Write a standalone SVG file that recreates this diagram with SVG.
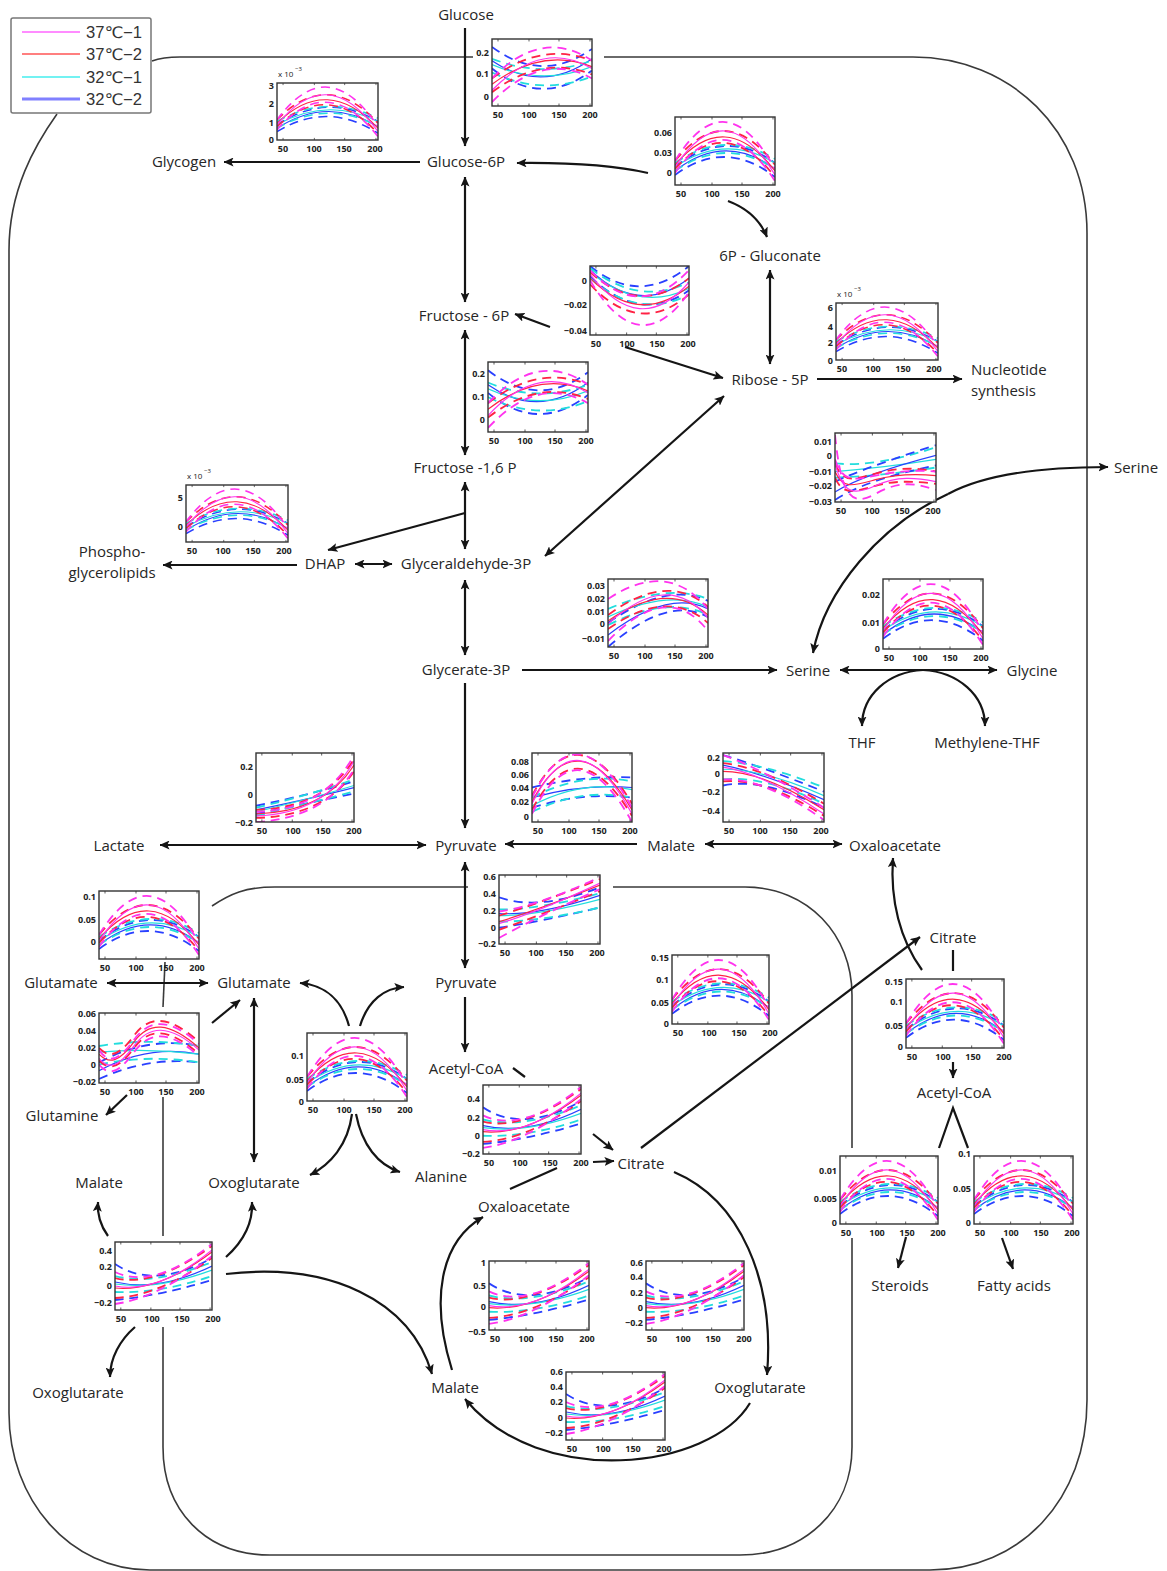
<svg xmlns="http://www.w3.org/2000/svg" xmlns:xlink="http://www.w3.org/1999/xlink" width="1167" height="1571" viewBox="0 0 1167 1571">
<style>
.n{font-family:"Open Sans","Noto Sans",sans-serif;font-size:15px;fill:#262626;text-anchor:middle}
.t{font-family:"Open Sans","Noto Sans",sans-serif;font-size:9px;font-weight:700;fill:#222}
.yl{text-anchor:end}
.xl{text-anchor:middle}
.lg{font-family:"Liberation Sans","DejaVu Sans",sans-serif;font-size:16px;fill:#333}
.mb{fill:none;stroke:#3a3a3a;stroke-width:1.6}
.cn{fill:none;stroke:#151515;stroke-width:2.2}
.ea{marker-end:url(#ah)}
.ba{marker-start:url(#ah);marker-end:url(#ah)}
.bg{fill:#fff}
.ax{fill:none;stroke:#333;stroke-width:1.4}
.tk{fill:none;stroke:#333;stroke-width:0.8}
.s{fill:none;stroke-width:1.2}
.d{fill:none;stroke-width:1.8;stroke-dasharray:9 6}
.M{stroke:#ff33ee}
.R{stroke:#ff2244}
.C{stroke:#22dddd}
.B{stroke:#2a40ff}
</style>
<defs>
<marker id="ah" viewBox="0 0 10 9" refX="9.5" refY="4.5" markerWidth="10" markerHeight="9" markerUnits="userSpaceOnUse" orient="auto-start-reverse">
<path d="M0,0 L10,4.5 L0,9 L2.2,4.5 z" fill="#151515"/>
</marker>
<clipPath id="cp"><rect width="100" height="68"/></clipPath>
<path id="tk" class="tk" d="M6,0v2.5M37,0v2.5M67,0v2.5M98,0v2.5M6,68v-2.5M37,68v-2.5M67,68v-2.5M98,68v-2.5"/>
<g id="xl" class="t xl"><text><tspan x="6">50</tspan><tspan x="37">100</tspan><tspan x="67">150</tspan><tspan x="98">200</tspan></text></g>
<g id="h" clip-path="url(#cp)">
<path class="s B" d="M0,54 Q50,15 100,52"/><path class="d B" d="M0,50 Q50,10 100,46"/><path class="d B" d="M0,58 Q50,21 100,60"/>
<path class="s C" d="M0,50 Q50,16 100,46"/><path class="d C" d="M0,46 Q50,12 100,42"/><path class="d C" d="M0,54 Q50,19 100,52"/>
<path class="s R" d="M0,48 Q50,-11 100,54"/><path class="d R" d="M0,44 Q50,-18 100,48"/><path class="d R" d="M0,52 Q50,-4 100,60"/>
<path class="s M" d="M0,50 Q50,-26 100,58"/><path class="d M" d="M0,44 Q50,-38 100,52"/><path class="d M" d="M0,56 Q50,-14 100,64"/>
</g>
<g id="ri" clip-path="url(#cp)">
<path class="s B" d="M0,40 Q45,50 100,24"/><path class="d B" d="M0,22 Q40,48 100,16"/><path class="d B" d="M0,58 Q45,54 100,38"/>
<path class="s C" d="M0,42 Q45,48 100,28"/><path class="d C" d="M0,34 Q40,44 100,20"/><path class="d C" d="M0,50 Q45,52 100,34"/>
<path class="s R" d="M0,46 Q45,50 100,10"/><path class="d R" d="M0,36 Q40,46 100,4"/><path class="d R" d="M0,56 Q45,54 100,16"/>
<path class="s M" d="M0,44 Q45,52 100,8"/><path class="d M" d="M0,30 Q40,48 100,2"/><path class="d M" d="M0,62 Q45,56 100,14"/>
</g>
<g id="x" clip-path="url(#cp)">
<path class="s B" d="M0,22 Q50,56 100,20"/><path class="d B" d="M0,8 Q50,46 100,10"/><path class="d B" d="M0,30 Q50,70 100,32"/>
<path class="s C" d="M0,26 Q50,48 100,28"/><path class="d C" d="M0,20 Q50,40 100,22"/><path class="d C" d="M0,34 Q50,58 100,38"/>
<path class="s R" d="M0,46 Q50,8 100,28"/><path class="d R" d="M0,40 Q50,2 100,22"/><path class="d R" d="M0,54 Q50,16 100,36"/>
<path class="s M" d="M0,52 Q50,0 100,30"/><path class="d M" d="M0,40 Q50,-12 100,22"/><path class="d M" d="M0,64 Q50,12 100,40"/>
</g>
<g id="v" clip-path="url(#cp)">
<path class="s B" d="M0,4 Q50,50 100,12"/><path class="d B" d="M0,0 Q50,40 100,0"/><path class="d B" d="M0,10 Q50,58 100,24"/>
<path class="s C" d="M0,6 Q50,46 100,22"/><path class="d C" d="M0,2 Q50,40 100,16"/><path class="d C" d="M0,12 Q50,54 100,28"/>
<path class="s R" d="M0,12 Q50,60 100,20"/><path class="d R" d="M0,6 Q50,50 100,12"/><path class="d R" d="M0,18 Q50,70 100,28"/>
<path class="s M" d="M0,8 Q50,72 100,16"/><path class="d M" d="M0,4 Q50,56 100,4"/><path class="d M" d="M0,14 Q50,96 100,26"/>
</g>
<g id="f" clip-path="url(#cp)">
<path class="s B" d="M0,12 Q40,20 100,46"/><path class="d B" d="M0,2 Q40,14 100,38"/><path class="d B" d="M0,32 Q40,24 100,54"/>
<path class="s C" d="M0,16 Q40,16 100,42"/><path class="d C" d="M0,8 Q40,10 100,34"/><path class="d C" d="M0,26 Q40,22 100,50"/>
<path class="s R" d="M0,18 Q40,18 100,56"/><path class="d R" d="M0,10 Q40,14 100,50"/><path class="d R" d="M0,28 Q40,24 100,62"/>
<path class="s M" d="M0,14 Q40,20 100,60"/><path class="d M" d="M0,2 Q40,16 100,54"/><path class="d M" d="M0,26 Q40,24 100,66"/>
</g>
<g id="se" clip-path="url(#cp)">
<path class="s C" d="M0,38 Q50,34 100,26"/><path class="d C" d="M0,30 Q40,34 100,14"/><path class="d C" d="M0,44 Q50,42 100,34"/>
<path class="s B" d="M0,58 Q30,40 100,22"/><path class="d B" d="M0,66 Q30,46 100,32"/><path class="d B" d="M0,48 Q30,34 100,12"/>
<path class="s R" d="M0,38 C8,56 18,52 40,46 S80,40 100,42"/><path class="d R" d="M0,30 C8,50 18,46 40,40 S80,34 100,38"/><path class="d R" d="M0,44 C8,62 18,58 40,52 S80,48 100,50"/>
<path class="s M" d="M0,30 C8,60 18,62 40,52 S80,44 100,48"/><path class="d M" d="M0,2 C6,60 15,74 40,60 S80,50 100,56"/><path class="d M" d="M0,26 C8,50 20,46 40,42 S80,36 100,38"/>
</g>
<g id="gs" clip-path="url(#cp)">
<path class="s B" d="M0,56 Q60,10 100,30"/><path class="d B" d="M0,68 Q60,16 100,38"/><path class="d B" d="M0,44 Q60,2 100,22"/>
<path class="s C" d="M0,38 Q60,10 100,28"/><path class="d C" d="M0,30 Q60,4 100,20"/><path class="d C" d="M0,46 Q60,16 100,36"/>
<path class="s R" d="M0,42 Q60,0 100,36"/><path class="d R" d="M0,36 Q60,-8 100,28"/><path class="d R" d="M0,50 Q60,8 100,44"/>
<path class="s M" d="M0,45 Q60,-10 100,39"/><path class="d M" d="M0,20 Q60,-20 100,30"/><path class="d M" d="M0,62 Q60,0 100,52"/>
</g>
<g id="la" clip-path="url(#cp)">
<path class="s B" d="M0,56 Q60,44 100,34"/><path class="d B" d="M0,52 Q60,40 100,28"/><path class="d B" d="M0,60 Q60,48 100,40"/>
<path class="s C" d="M0,58 Q60,44 100,32"/><path class="d C" d="M0,54 Q60,40 100,26"/><path class="d C" d="M0,62 Q60,48 100,38"/>
<path class="s R" d="M0,60 Q70,58 100,12"/><path class="d R" d="M0,56 Q70,54 100,6"/><path class="d R" d="M0,64 Q70,62 100,18"/>
<path class="s M" d="M0,62 Q70,60 100,8"/><path class="d M" d="M0,58 Q70,56 100,2"/><path class="d M" d="M0,68 Q70,64 100,16"/>
</g>
<g id="pm" clip-path="url(#cp)">
<path class="s B" d="M0,44 Q50,30 100,34"/><path class="d B" d="M0,34 Q50,22 100,24"/><path class="d B" d="M0,54 Q50,38 100,44"/>
<path class="s C" d="M0,52 Q50,26 100,36"/><path class="d C" d="M0,44 Q50,18 100,28"/><path class="d C" d="M0,58 Q50,34 100,44"/>
<path class="s R" d="M0,48 Q45,-36 100,56"/><path class="d R" d="M0,42 Q45,-42 100,50"/><path class="d R" d="M0,56 Q45,-28 100,62"/>
<path class="s M" d="M0,50 Q45,-40 100,60"/><path class="d M" d="M0,44 Q45,-46 100,54"/><path class="d M" d="M0,60 Q45,-30 100,68"/>
</g>
<g id="gl" clip-path="url(#cp)">
<path class="s B" d="M0,56 Q50,30 100,40"/><path class="d B" d="M0,48 Q50,22 100,32"/><path class="d B" d="M0,64 Q50,42 100,48"/>
<path class="s C" d="M0,38 Q50,34 100,40"/><path class="d C" d="M0,32 Q50,24 100,32"/><path class="d C" d="M0,50 Q50,40 100,48"/>
<path class="s R" d="M0,40 C10,50 20,48 35,28 S70,8 100,34"/><path class="d R" d="M0,34 C10,44 20,42 35,22 S70,2 100,28"/><path class="d R" d="M0,46 C10,56 20,54 35,34 S70,14 100,40"/>
<path class="s M" d="M0,44 C10,56 20,52 35,32 S70,10 100,36"/><path class="d M" d="M0,36 C10,50 20,46 35,26 S70,4 100,30"/><path class="d M" d="M0,50 C10,62 20,58 35,38 S70,16 100,42"/>
</g>
<g id="pp" clip-path="url(#cp)">
<path class="s B" d="M0,38 Q40,40 100,20"/><path class="d B" d="M0,22 Q40,36 100,12"/><path class="d B" d="M0,52 Q40,46 100,32"/>
<path class="s C" d="M0,40 Q40,40 100,24"/><path class="d C" d="M0,34 Q40,34 100,18"/><path class="d C" d="M0,46 Q40,46 100,32"/>
<path class="s R" d="M0,46 Q40,34 100,10"/><path class="d R" d="M0,40 Q40,28 100,4"/><path class="d R" d="M0,54 Q40,40 100,16"/>
<path class="s M" d="M0,48 Q40,36 100,8"/><path class="d M" d="M0,36 Q40,30 100,2"/><path class="d M" d="M0,62 Q40,40 100,14"/>
</g>
</defs>
<rect width="1167" height="1571" fill="#fff"/>

<g id="membranes">
<path class="mb" d="M152,61 C160,58 170,57 180,57 L473,57"/>
<path class="mb" d="M604,57 L913,57 C1010,57 1087,130 1087,233 L1087,1400 C1087,1500 1020,1570 930,1570 L150,1570 C70,1570 9,1500 9,1413 L9,250 C9,190 35,145 57,114"/>
<path class="mb" d="M212,906 C230,894 245,887 275,887 L468,887"/>
<path class="mb" d="M613,887 L745,887 C808,887 852,935 852,995 L852,1148"/>
<path class="mb" d="M852,1238 L852,1447 C852,1510 805,1555 740,1555 L270,1555 C205,1555 163,1510 163,1447 L163,1327"/>
<path class="mb" d="M163,1236 L163,1097"/>
<path class="mb" d="M163,1007 L165,962"/>
</g>

<g id="legend">
<rect x="11" y="18" width="140" height="95" rx="2" fill="#fff" stroke="#777" stroke-width="1.5"/>
<line x1="22" y1="32" x2="80" y2="32" stroke="#ff66ff" stroke-width="1.6"/>
<line x1="22" y1="54" x2="80" y2="54" stroke="#ff5555" stroke-width="1.6"/>
<line x1="22" y1="77" x2="80" y2="77" stroke="#44eeee" stroke-width="1.6"/>
<line x1="22" y1="99" x2="80" y2="99" stroke="#8080ff" stroke-width="3"/>
<text class="lg" x="86" y="38" textLength="56" lengthAdjust="spacingAndGlyphs">37℃−1</text>
<text class="lg" x="86" y="60" textLength="56" lengthAdjust="spacingAndGlyphs">37℃−2</text>
<text class="lg" x="86" y="83" textLength="56" lengthAdjust="spacingAndGlyphs">32℃−1</text>
<text class="lg" x="86" y="105" textLength="56" lengthAdjust="spacingAndGlyphs">32℃−2</text>
</g>

<g id="connectors">
<path class="cn ea" d="M465,28 L465,146"/>
<path class="cn ea" d="M420,162 L224,162"/>
<path class="cn ea" d="M648,173 Q600,162 517,163"/>
<path class="cn ea" d="M728,201 Q757,212 767,237"/>
<path class="cn ba" d="M465,177 L465,302"/>
<path class="cn ba" d="M770,270 L770,364"/>
<path class="cn ea" d="M550,327 L515,314"/>
<path class="cn ea" d="M625,347 L723,378"/>
<path class="cn ba" d="M465,330 L465,455"/>
<path class="cn ba" d="M465,482 L465,549"/>
<path class="cn ea" d="M465,513 L328,550"/>
<path class="cn ba" d="M355,564 L392,564"/>
<path class="cn ea" d="M297,565 L163,565"/>
<path class="cn ba" d="M545,556 L724,396"/>
<path class="cn ea" d="M817,379 L962,379"/>
<path class="cn ba" d="M465,580 L465,655"/>
<path class="cn ea" d="M522,670 L777,670"/>
<path class="cn ba" d="M840,670 L997,670"/>
<path class="cn ea" d="M923,670 C888,672 862,695 862,726"/>
<path class="cn ea" d="M923,670 C958,672 985,695 985,726"/>
<path class="cn ea" d="M948,494 C985,474 1040,467 1108,467"/>
<path class="cn ea" d="M948,494 C880,525 825,590 813,653"/>
<path class="cn ea" d="M465,683 L465,828"/>
<path class="cn ba" d="M160,845 L426,845"/>
<path class="cn ea" d="M637,844 L505,844"/>
<path class="cn ba" d="M705,844 L842,844"/>
<path class="cn ba" d="M465,862 L465,968"/>
<path class="cn ea" d="M465,997 L465,1052"/>
<path class="cn" d="M513,1068 L525,1077"/>
<path class="cn ea" d="M593,1134 L613,1150"/>
<path class="cn" d="M510,1189 L557,1168"/>
<path class="cn ea" d="M593,1162 L614,1161"/>
<path class="cn ea" d="M641,1148 L920,937"/>
<path class="cn ea" d="M674,1172 C740,1200 775,1280 767,1375"/>
<path class="cn ea" d="M750,1403 C710,1470 540,1490 465,1399"/>
<path class="cn ea" d="M452,1370 C430,1300 440,1242 483,1217"/>
<path class="cn ea" d="M226,1274 C330,1262 410,1300 432,1374"/>
<path class="cn ea" d="M226,1257 C245,1240 253,1222 252,1202"/>
<path class="cn ea" d="M108,1236 C100,1225 97,1215 98,1202"/>
<path class="cn ea" d="M135,1327 C120,1340 110,1358 110,1377"/>
<path class="cn ba" d="M107,983 L208,983"/>
<path class="cn ea" d="M212,1023 L240,1000"/>
<path class="cn ea" d="M127,1095 L106,1115"/>
<path class="cn ba" d="M254,998 L254,1162"/>
<path class="cn ea" d="M349,1026 C342,1000 325,985 300,983"/>
<path class="cn ea" d="M360,1026 C368,1000 385,988 404,987"/>
<path class="cn ea" d="M352,1114 C348,1145 330,1165 310,1175"/>
<path class="cn ea" d="M356,1114 C362,1145 378,1165 400,1172"/>
<path class="cn" d="M953,950 L953,971"/>
<path class="cn ea" d="M953,1062 L953,1078"/>
<path class="cn" d="M939,1148 L953,1108 L968,1148"/>
<path class="cn ea" d="M906,1237 L898,1268"/>
<path class="cn ea" d="M1002,1238 L1013,1269"/>
<path class="cn ea" d="M922,970 C900,940 890,900 893,858"/>
</g>

<g id="nodes">
<g id="n-glucose"><text class="n" x="466" y="20">Glucose</text></g>
<g id="n-glycogen"><text class="n" x="184" y="167">Glycogen</text></g>
<g id="n-g6p"><text class="n" x="466" y="167">Glucose-6P</text></g>
<g id="n-6pg"><text class="n" x="770" y="261">6P - Gluconate</text></g>
<g id="n-f6p"><text class="n" x="464" y="321">Fructose - 6P</text></g>
<g id="n-r5p"><text class="n" x="770" y="385">Ribose - 5P</text></g>
<g id="n-nuc"><text class="n" x="971" y="375" style="text-anchor:start">Nucleotide</text><text class="n" x="971" y="396" style="text-anchor:start">synthesis</text></g>
<g id="n-f16p"><text class="n" x="465" y="473">Fructose -1,6 P</text></g>
<g id="n-serine-out"><text class="n" x="1136" y="473">Serine</text></g>
<g id="n-pgl"><text class="n" x="112" y="557">Phospho-</text><text class="n" x="112" y="578">glycerolipids</text></g>
<g id="n-dhap"><text class="n" x="325" y="569">DHAP</text></g>
<g id="n-gap"><text class="n" x="466" y="569">Glyceraldehyde-3P</text></g>
<g id="n-g3p"><text class="n" x="466" y="675">Glycerate-3P</text></g>
<g id="n-serine"><text class="n" x="808" y="676">Serine</text></g>
<g id="n-glycine"><text class="n" x="1032" y="676">Glycine</text></g>
<g id="n-thf"><text class="n" x="862" y="748">THF</text></g>
<g id="n-mthf"><text class="n" x="987" y="748">Methylene-THF</text></g>
<g id="n-lactate"><text class="n" x="119" y="851">Lactate</text></g>
<g id="n-pyr"><text class="n" x="466" y="851">Pyruvate</text></g>
<g id="n-malate-c"><text class="n" x="671" y="851">Malate</text></g>
<g id="n-oaa-c"><text class="n" x="895" y="851">Oxaloacetate</text></g>
<g id="n-citrate-c"><text class="n" x="953" y="943">Citrate</text></g>
<g id="n-glu-c"><text class="n" x="61" y="988">Glutamate</text></g>
<g id="n-glu-m"><text class="n" x="254" y="988">Glutamate</text></g>
<g id="n-pyr-m"><text class="n" x="466" y="988">Pyruvate</text></g>
<g id="n-accoa-c"><text class="n" x="954" y="1098">Acetyl-CoA</text></g>
<g id="n-gln"><text class="n" x="62" y="1121">Glutamine</text></g>
<g id="n-accoa-m"><text class="n" x="466" y="1074">Acetyl-CoA</text></g>
<g id="n-malate-l"><text class="n" x="99" y="1188">Malate</text></g>
<g id="n-oxo-m1"><text class="n" x="254" y="1188">Oxoglutarate</text></g>
<g id="n-ala"><text class="n" x="441" y="1182">Alanine</text></g>
<g id="n-citrate-m"><text class="n" x="641" y="1169">Citrate</text></g>
<g id="n-oaa-m"><text class="n" x="524" y="1212">Oxaloacetate</text></g>
<g id="n-steroids"><text class="n" x="900" y="1291">Steroids</text></g>
<g id="n-fa"><text class="n" x="1014" y="1291">Fatty acids</text></g>
<g id="n-oxo-c"><text class="n" x="78" y="1398">Oxoglutarate</text></g>
<g id="n-malate-m"><text class="n" x="455" y="1393">Malate</text></g>
<g id="n-oxo-m2"><text class="n" x="760" y="1393">Oxoglutarate</text></g>
</g>

<g id="plots">
<g id="p-glycogen" transform="translate(277,83)">
<rect class="bg" width="101" height="57"/><use href="#h" transform="scale(1.01,0.838)"/><use href="#tk" transform="scale(1.01,0.838)"/><rect class="ax" width="101" height="57"/>
<g class="t yl"><text x="-3" y="6">3</text><text x="-3" y="24">2</text><text x="-3" y="43">1</text><text x="-3" y="60">0</text></g>
<text class="t" x="1" y="-6" style="font-weight:400;font-size:8px">x 10</text><text class="t" x="18" y="-12" style="font-weight:400;font-size:6px">−3</text>
<use href="#xl" y="69"/></g>

<g id="p-glucose" transform="translate(492,39)">
<rect class="bg" width="100" height="67"/><use href="#x" transform="scale(1,0.985)"/><use href="#tk" transform="scale(1,0.985)"/><rect class="ax" width="100" height="67"/>
<g class="t yl"><text x="-3" y="17">0.2</text><text x="-3" y="38">0.1</text><text x="-3" y="61">0</text></g>
<use href="#xl" y="79"/></g>

<g id="p-g6p" transform="translate(675,117)">
<rect class="bg" width="100" height="68"/><use href="#h"/><use href="#tk"/><rect class="ax" width="100" height="68"/>
<g class="t yl"><text x="-3" y="19">0.06</text><text x="-3" y="39">0.03</text><text x="-3" y="59">0</text></g>
<use href="#xl" y="80"/></g>

<g id="p-f6p" transform="translate(590,266)">
<rect class="bg" width="99" height="69"/><use href="#v" transform="scale(0.99,1.015)"/><use href="#tk" transform="scale(0.99,1.015)"/><rect class="ax" width="99" height="69"/>
<g class="t yl"><text x="-3" y="18">0</text><text x="-3" y="42">−0.02</text><text x="-3" y="68">−0.04</text></g>
<use href="#xl" y="81"/></g>

<g id="p-nuc" transform="translate(836,303)">
<rect class="bg" width="102" height="57"/><use href="#h" transform="scale(1.02,0.838)"/><use href="#tk" transform="scale(1.02,0.838)"/><rect class="ax" width="102" height="57"/>
<g class="t yl"><text x="-3" y="8">6</text><text x="-3" y="27">4</text><text x="-3" y="43">2</text><text x="-3" y="61">0</text></g>
<text class="t" x="1" y="-6" style="font-weight:400;font-size:8px">x 10</text><text class="t" x="18" y="-12" style="font-weight:400;font-size:6px">−3</text>
<use href="#xl" y="69"/></g>

<g id="p-f16p" transform="translate(488,362)">
<rect class="bg" width="100" height="70"/><use href="#x" transform="scale(1,1.03)"/><use href="#tk" transform="scale(1,1.03)"/><rect class="ax" width="100" height="70"/>
<g class="t yl"><text x="-3" y="15">0.2</text><text x="-3" y="38">0.1</text><text x="-3" y="61">0</text></g>
<use href="#xl" y="82"/></g>

<g id="p-serexp" transform="translate(835,433)">
<rect class="bg" width="101" height="69"/><use href="#se" transform="scale(1.01,1.015)"/><use href="#tk" transform="scale(1.01,1.015)"/><rect class="ax" width="101" height="69"/>
<g class="t yl"><text x="-3" y="12">0.01</text><text x="-3" y="26">0</text><text x="-3" y="42">−0.01</text><text x="-3" y="56">−0.02</text><text x="-3" y="72">−0.03</text></g>
<use href="#xl" y="81"/></g>

<g id="p-dhap" transform="translate(186,485)">
<rect class="bg" width="102" height="57"/><use href="#h" transform="scale(1.02,0.838)"/><use href="#tk" transform="scale(1.02,0.838)"/><rect class="ax" width="102" height="57"/>
<g class="t yl"><text x="-3" y="16">5</text><text x="-3" y="45">0</text></g>
<text class="t" x="1" y="-6" style="font-weight:400;font-size:8px">x 10</text><text class="t" x="18" y="-12" style="font-weight:400;font-size:6px">−3</text>
<use href="#xl" y="69"/></g>

<g id="p-glyser" transform="translate(608,579)">
<rect class="bg" width="100" height="68"/><use href="#gs"/><use href="#tk"/><rect class="ax" width="100" height="68"/>
<g class="t yl"><text x="-3" y="10">0.03</text><text x="-3" y="23">0.02</text><text x="-3" y="36">0.01</text><text x="-3" y="48">0</text><text x="-3" y="63">−0.01</text></g>
<use href="#xl" y="80"/></g>

<g id="p-sergly" transform="translate(883,579)">
<rect class="bg" width="100" height="70"/><use href="#h" transform="scale(1,1.03)"/><use href="#tk" transform="scale(1,1.03)"/><rect class="ax" width="100" height="70"/>
<g class="t yl"><text x="-3" y="19">0.02</text><text x="-3" y="47">0.01</text><text x="-3" y="73">0</text></g>
<use href="#xl" y="82"/></g>

<g id="p-lactate" transform="translate(256,753)">
<rect class="bg" width="98" height="69"/><use href="#la" transform="scale(0.98,1.015)"/><use href="#tk" transform="scale(0.98,1.015)"/><rect class="ax" width="98" height="69"/>
<g class="t yl"><text x="-3" y="17">0.2</text><text x="-3" y="45">0</text><text x="-3" y="73">−0.2</text></g>
<use href="#xl" y="81"/></g>

<g id="p-pyrmal" transform="translate(532,753)">
<rect class="bg" width="100" height="69"/><use href="#pm" transform="scale(1,1.015)"/><use href="#tk" transform="scale(1,1.015)"/><rect class="ax" width="100" height="69"/>
<g class="t yl"><text x="-3" y="12">0.08</text><text x="-3" y="25">0.06</text><text x="-3" y="38">0.04</text><text x="-3" y="52">0.02</text><text x="-3" y="67">0</text></g>
<use href="#xl" y="81"/></g>

<g id="p-maloaa" transform="translate(723,753)">
<rect class="bg" width="101" height="69"/><use href="#f" transform="scale(1.01,1.015)"/><use href="#tk" transform="scale(1.01,1.015)"/><rect class="ax" width="101" height="69"/>
<g class="t yl"><text x="-3" y="8">0.2</text><text x="-3" y="24">0</text><text x="-3" y="42">−0.2</text><text x="-3" y="61">−0.4</text></g>
<use href="#xl" y="81"/></g>

<g id="p-pyrpyr" transform="translate(499,875)">
<rect class="bg" width="101" height="69"/><use href="#pp" transform="scale(1.01,1.015)"/><use href="#tk" transform="scale(1.01,1.015)"/><rect class="ax" width="101" height="69"/>
<g class="t yl"><text x="-3" y="5">0.6</text><text x="-3" y="22">0.4</text><text x="-3" y="39">0.2</text><text x="-3" y="56">0</text><text x="-3" y="72">−0.2</text></g>
<use href="#xl" y="81"/></g>

<g id="p-citexp" transform="translate(672,955)">
<rect class="bg" width="97" height="69"/><use href="#h" transform="scale(0.97,1.015)"/><use href="#tk" transform="scale(0.97,1.015)"/><rect class="ax" width="97" height="69"/>
<g class="t yl"><text x="-3" y="6">0.15</text><text x="-3" y="28">0.1</text><text x="-3" y="51">0.05</text><text x="-3" y="72">0</text></g>
<use href="#xl" y="81"/></g>

<g id="p-glu" transform="translate(99,891)">
<rect class="bg" width="100" height="68"/><use href="#h"/><use href="#tk"/><rect class="ax" width="100" height="68"/>
<g class="t yl"><text x="-3" y="9">0.1</text><text x="-3" y="32">0.05</text><text x="-3" y="54">0</text></g>
<use href="#xl" y="80"/></g>

<g id="p-gln" transform="translate(99,1013)">
<rect class="bg" width="100" height="70"/><use href="#gl" transform="scale(1,1.03)"/><use href="#tk" transform="scale(1,1.03)"/><rect class="ax" width="100" height="70"/>
<g class="t yl"><text x="-3" y="4">0.06</text><text x="-3" y="21">0.04</text><text x="-3" y="38">0.02</text><text x="-3" y="55">0</text><text x="-3" y="72">−0.02</text></g>
<use href="#xl" y="82"/></g>

<g id="p-glual" transform="translate(307,1033)">
<rect class="bg" width="100" height="68"/><use href="#h"/><use href="#tk"/><rect class="ax" width="100" height="68"/>
<g class="t yl"><text x="-3" y="26">0.1</text><text x="-3" y="50">0.05</text><text x="-3" y="72">0</text></g>
<use href="#xl" y="80"/></g>

<g id="p-accoa" transform="translate(483,1085)">
<rect class="bg" width="98" height="69"/><use href="#ri" transform="scale(0.98,1.015)"/><use href="#tk" transform="scale(0.98,1.015)"/><rect class="ax" width="98" height="69"/>
<g class="t yl"><text x="-3" y="17">0.4</text><text x="-3" y="36">0.2</text><text x="-3" y="54">0</text><text x="-3" y="72">−0.2</text></g>
<use href="#xl" y="81"/></g>

<g id="p-tcal" transform="translate(489,1261)">
<rect class="bg" width="100" height="69"/><use href="#ri" transform="scale(1,1.015)"/><use href="#tk" transform="scale(1,1.015)"/><rect class="ax" width="100" height="69"/>
<g class="t yl"><text x="-3" y="5">1</text><text x="-3" y="28">0.5</text><text x="-3" y="49">0</text><text x="-3" y="74">−0.5</text></g>
<use href="#xl" y="81"/></g>

<g id="p-tcar" transform="translate(646,1261)">
<rect class="bg" width="98" height="69"/><use href="#ri" transform="scale(0.98,1.015)"/><use href="#tk" transform="scale(0.98,1.015)"/><rect class="ax" width="98" height="69"/>
<g class="t yl"><text x="-3" y="5">0.6</text><text x="-3" y="19">0.4</text><text x="-3" y="35">0.2</text><text x="-3" y="50">0</text><text x="-3" y="65">−0.2</text></g>
<use href="#xl" y="81"/></g>

<g id="p-tcab" transform="translate(566,1372)">
<rect class="bg" width="99" height="68"/><use href="#ri" transform="scale(0.99,1)"/><use href="#tk" transform="scale(0.99,1)"/><rect class="ax" width="99" height="68"/>
<g class="t yl"><text x="-3" y="3">0.6</text><text x="-3" y="18">0.4</text><text x="-3" y="33">0.2</text><text x="-3" y="49">0</text><text x="-3" y="64">−0.2</text></g>
<use href="#xl" y="80"/></g>

<g id="p-citcyt" transform="translate(906,979)">
<rect class="bg" width="98" height="69"/><use href="#h" transform="scale(0.98,1.015)"/><use href="#tk" transform="scale(0.98,1.015)"/><rect class="ax" width="98" height="69"/>
<g class="t yl"><text x="-3" y="6">0.15</text><text x="-3" y="26">0.1</text><text x="-3" y="50">0.05</text><text x="-3" y="71">0</text></g>
<use href="#xl" y="81"/></g>

<g id="p-ster" transform="translate(840,1156)">
<rect class="bg" width="98" height="68"/><use href="#h" transform="scale(0.98,1)"/><use href="#tk" transform="scale(0.98,1)"/><rect class="ax" width="98" height="68"/>
<g class="t yl"><text x="-3" y="18">0.01</text><text x="-3" y="46">0.005</text><text x="-3" y="70">0</text></g>
<use href="#xl" y="80"/></g>

<g id="p-fa" transform="translate(974,1156)">
<rect class="bg" width="99" height="68"/><use href="#h" transform="scale(0.99,1)"/><use href="#tk" transform="scale(0.99,1)"/><rect class="ax" width="99" height="68"/>
<g class="t yl"><text x="-3" y="1">0.1</text><text x="-3" y="36">0.05</text><text x="-3" y="70">0</text></g>
<use href="#xl" y="80"/></g>

<g id="p-mo" transform="translate(115,1242)">
<rect class="bg" width="97" height="68"/><use href="#ri" transform="scale(0.97,1)"/><use href="#tk" transform="scale(0.97,1)"/><rect class="ax" width="97" height="68"/>
<g class="t yl"><text x="-3" y="12">0.4</text><text x="-3" y="28">0.2</text><text x="-3" y="47">0</text><text x="-3" y="64">−0.2</text></g>
<use href="#xl" y="80"/></g>
</g>
</svg>
